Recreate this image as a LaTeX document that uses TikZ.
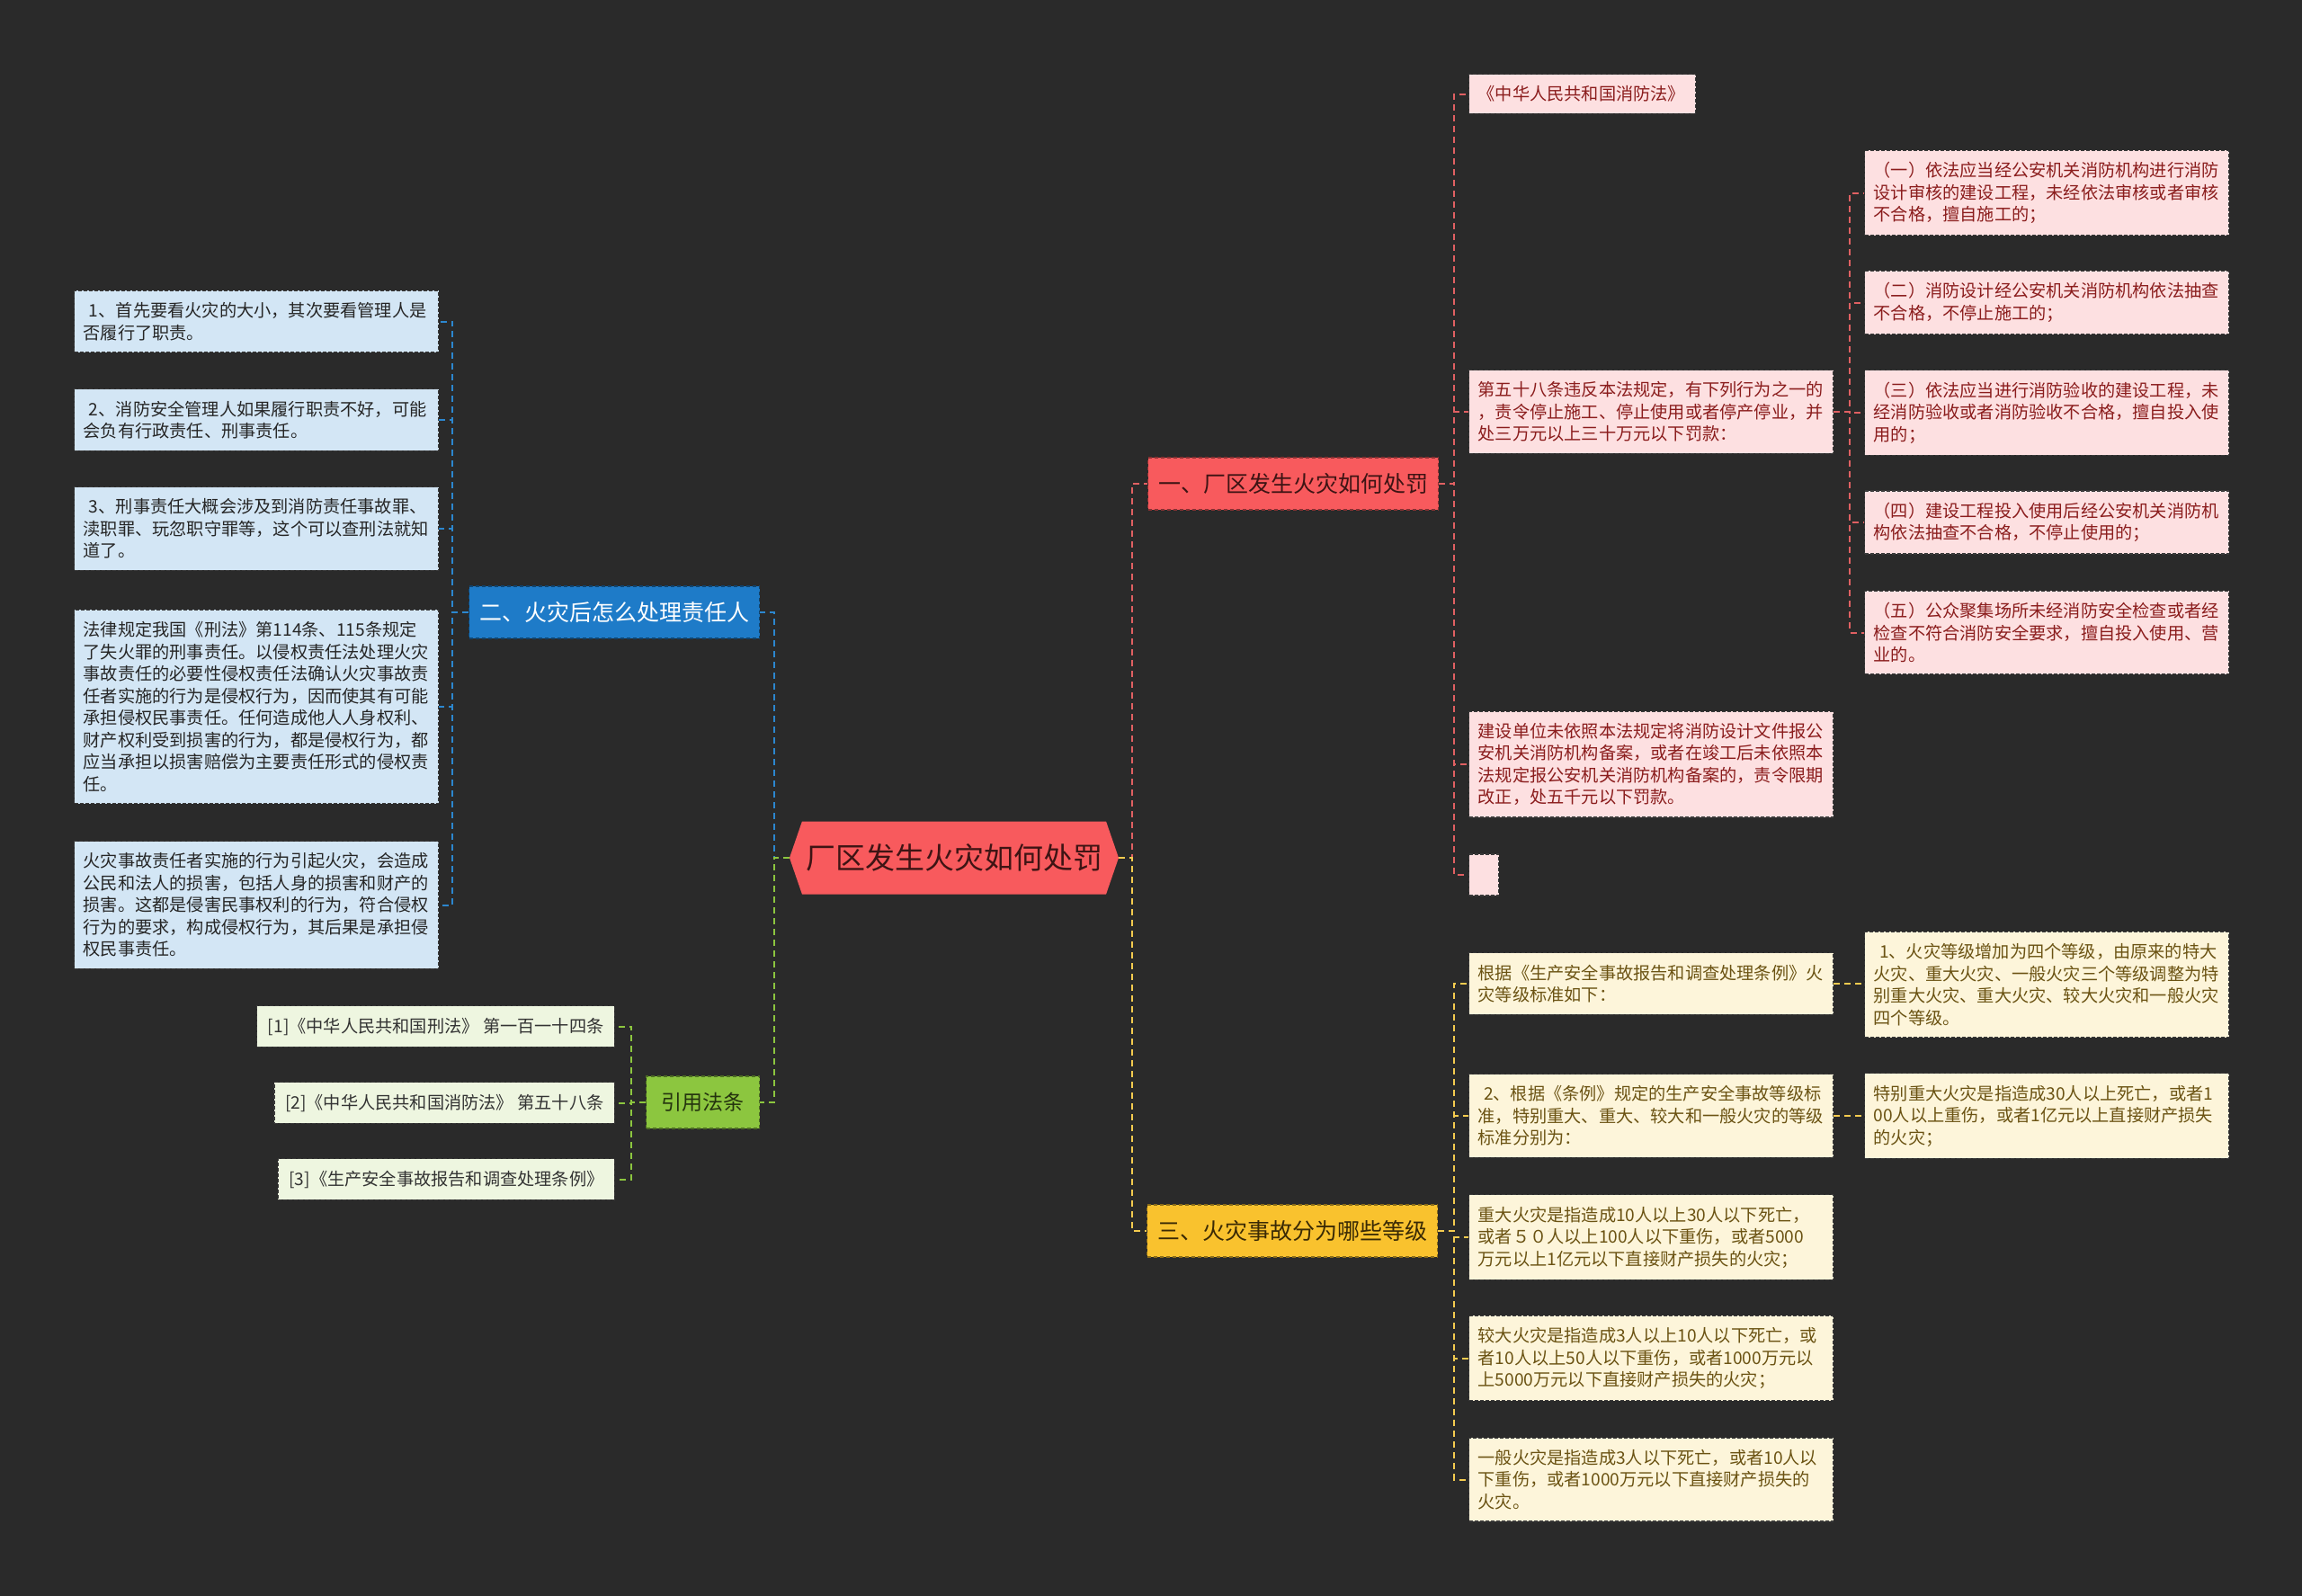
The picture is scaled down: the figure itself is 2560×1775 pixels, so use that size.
\documentclass[tikz,border=0pt]{standalone}
\usepackage{fontspec}
\setmainfont{Noto Sans CJK SC}
\usepackage{xcolor}
\usetikzlibrary{positioning, shapes.symbols}
\definecolor{bgDark}{HTML}{2A2A2A}
\definecolor{hotRed}{HTML}{F85A5D}
\definecolor{rootInk}{HTML}{3E1414}
\definecolor{deepBlue}{HTML}{1E7BC8}
\definecolor{amber}{HTML}{F9C22E}
\definecolor{amberInk}{HTML}{3A2A05}
\definecolor{leafGreen}{HTML}{8CC63F}
\definecolor{greenInk}{HTML}{24330E}
\definecolor{skyFill}{HTML}{D3E6F5}
\definecolor{roseFill}{HTML}{FDE0E1}
\definecolor{roseInk}{HTML}{8B1D1D}
\definecolor{creamFill}{HTML}{FDF5DA}
\definecolor{creamInk}{HTML}{6B5313}
\definecolor{mintFill}{HTML}{EEF6E0}
\definecolor{boxEdge}{HTML}{3A3A3A}
\definecolor{linkBlue}{HTML}{2C87CF}
\definecolor{linkRed}{HTML}{E06062}
\definecolor{linkAmber}{HTML}{F4CB4F}
\definecolor{linkGreen}{HTML}{8CC63F}
\tikzset{
    rootNode/.style={signal, signal to=east and west, signal pointer angle=142, fill=hotRed, text=rootInk,
        font=\fontsize{33}{38}\selectfont, minimum width=366pt, minimum height=81pt, inner sep=0pt},
    topicNode/.style={rectangle, fill=#1, draw=#1!55!black, line width=1.2pt, dash pattern=on 4pt off 3pt,
        minimum width=323pt, minimum height=58pt, inner xsep=6pt, font=\fontsize{25}{30}\selectfont},
    leafNode/.style={rectangle, draw=boxEdge, line width=1.2pt, dash pattern=on 4pt off 2pt,
        text width=385pt, align=left, inner xsep=10pt, inner ysep=13pt, font=\fontsize{19.2}{24.5}\selectfont},
    blueLeaf/.style={leafNode, fill=skyFill, text=black!85},
    redLeaf/.style={leafNode, fill=roseFill, text=roseInk},
    yellowLeaf/.style={leafNode, fill=creamFill, text=creamInk},
    greenLeaf/.style={rectangle, draw=boxEdge, line width=1.2pt, dash pattern=on 4pt off 2pt, fill=mintFill,
        text=black!80, inner xsep=12pt, inner ysep=13pt, font=\fontsize{19.2}{24.5}\selectfont},
    linkLine/.style={draw=#1, line width=2pt, dash pattern=on 7pt off 5pt}
}
\begin{document}
\begin{tikzpicture}[x=1pt, y=-1pt]
    \fill[bgDark] (0,0) rectangle (2560,1775);
    \useasboundingbox (0,0) rectangle (2560,1775);

    \node[rootNode] (root) at (1061,954) {厂区发生火灾如何处罚};

    \node[topicNode=hotRed, text=rootInk, anchor=west] (fire) at (1276,538) {一、厂区发生火灾如何处罚};
    \node[topicNode=deepBlue, text=white, anchor=west] (duty) at (521,681) {二、火灾后怎么处理责任人};
    \node[topicNode=amber, text=amberInk, anchor=west] (grade) at (1275,1369) {三、火灾事故分为哪些等级};
    \node[topicNode=leafGreen, text=greenInk, anchor=west, minimum width=126pt, font=\fontsize{23}{28}\selectfont] (law) at (718,1226) {引用法条};

    \node[blueLeaf, anchor=west] (d1) at (82,357.5) {~1、首先要看火灾的大小，其次要看管理人是\\否履行了职责。};
    \node[blueLeaf, anchor=west] (d2) at (82,467) {~2、消防安全管理人如果履行职责不好，可能\\会负有行政责任、刑事责任。};
    \node[blueLeaf, anchor=west] (d3) at (82,588) {~3、刑事责任大概会涉及到消防责任事故罪、\\渎职罪、玩忽职守罪等，这个可以查刑法就知\\道了。};
    \node[blueLeaf, anchor=west] (d4) at (82,786) {法律规定我国《刑法》第114条、115条规定\\了失火罪的刑事责任。以侵权责任法处理火灾\\事故责任的必要性侵权责任法确认火灾事故责\\任者实施的行为是侵权行为，因而使其有可能\\承担侵权民事责任。任何造成他人人身权利、\\财产权利受到损害的行为，都是侵权行为，都\\应当承担以损害赔偿为主要责任形式的侵权责\\任。};
    \node[blueLeaf, anchor=west] (d5) at (82,1006.5) {火灾事故责任者实施的行为引起火灾，会造成\\公民和法人的损害，包括人身的损害和财产的\\损害。这都是侵害民事权利的行为，符合侵权\\行为的要求，构成侵权行为，其后果是承担侵\\权民事责任。};

    \node[greenLeaf, anchor=east] (g1) at (684,1141.5) {[1]《中华人民共和国刑法》 第一百一十四条};
    \node[greenLeaf, anchor=east] (g2) at (684,1226.5) {[2]《中华人民共和国消防法》 第五十八条};
    \node[greenLeaf, anchor=east] (g3) at (684,1311.5) {[3]《生产安全事故报告和调查处理条例》};

    \node[redLeaf, anchor=west, text width=232pt] (r0) at (1633,104.5) {《中华人民共和国消防法》};
    \node[redLeaf, anchor=west] (r1) at (1633,458) {第五十八条违反本法规定，有下列行为之一的\\，责令停止施工、停止使用或者停产停业，并\\处三万元以上三十万元以下罚款：};
    \node[redLeaf, anchor=west] (r2) at (1633,850) {建设单位未依照本法规定将消防设计文件报公\\安机关消防机构备案，或者在竣工后未依照本\\法规定报公安机关消防机构备案的，责令限期\\改正，处五千元以下罚款。};
    \node[redLeaf, anchor=west, text width=13pt, minimum height=46pt] (r3) at (1633,973) {};

    \node[redLeaf, anchor=west] (c1) at (2073,214.5) {（一）依法应当经公安机关消防机构进行消防\\设计审核的建设工程，未经依法审核或者审核\\不合格，擅自施工的；};
    \node[redLeaf, anchor=west] (c2) at (2073,336.5) {（二）消防设计经公安机关消防机构依法抽查\\不合格，不停止施工的；};
    \node[redLeaf, anchor=west] (c3) at (2073,459) {（三）依法应当进行消防验收的建设工程，未\\经消防验收或者消防验收不合格，擅自投入使\\用的；};
    \node[redLeaf, anchor=west] (c4) at (2073,581) {（四）建设工程投入使用后经公安机关消防机\\构依法抽查不合格，不停止使用的；};
    \node[redLeaf, anchor=west] (c5) at (2073,703.5) {（五）公众聚集场所未经消防安全检查或者经\\检查不符合消防安全要求，擅自投入使用、营\\业的。};

    \node[yellowLeaf, anchor=west] (y1) at (1633,1094) {根据《生产安全事故报告和调查处理条例》火\\灾等级标准如下：};
    \node[yellowLeaf, anchor=west] (y2) at (1633,1241) {~2、根据《条例》规定的生产安全事故等级标\\准，特别重大、重大、较大和一般火灾的等级\\标准分别为：};
    \node[yellowLeaf, anchor=west] (y3) at (1633,1376) {重大火灾是指造成10人以上30人以下死亡，\\或者５０人以上100人以下重伤，或者5000\\万元以上1亿元以下直接财产损失的火灾；};
    \node[yellowLeaf, anchor=west] (y4) at (1633,1510.5) {较大火灾是指造成3人以上10人以下死亡，或\\者10人以上50人以下重伤，或者1000万元以\\上5000万元以下直接财产损失的火灾；};
    \node[yellowLeaf, anchor=west] (y5) at (1633,1645.5) {一般火灾是指造成3人以下死亡，或者10人以\\下重伤，或者1000万元以下直接财产损失的\\火灾。};
    \node[yellowLeaf, anchor=west] (z1) at (2073,1095) {~1、火灾等级增加为四个等级，由原来的特大\\火灾、重大火灾、一般火灾三个等级调整为特\\别重大火灾、重大火灾、较大火灾和一般火灾\\四个等级。};
    \node[yellowLeaf, anchor=west] (z2) at (2073,1241) {特别重大火灾是指造成30人以上死亡，或者1\\00人以上重伤，或者1亿元以上直接财产损失\\的火灾；};

    \coordinate (tLeft) at (861,0);  \coordinate (tRight) at (1259,0);
    \coordinate (tDuty) at (503,0);  \coordinate (tLaw) at (702,0);
    \coordinate (tFire) at (1617,0); \coordinate (tArt) at (2057,0);
    \coordinate (tGrade) at (1617,0);

    \draw[linkLine=linkBlue] (root.west) -- (tLeft |- root.west) |- (duty.east);
    \draw[linkLine=linkGreen] (root.west) -- (tLeft |- root.west) |- (law.east);
    \draw[linkLine=linkRed] (root.east) -- (tRight |- root.east) |- (fire.west);
    \draw[linkLine=linkAmber] (root.east) -- (tRight |- root.east) |- (grade.west);

    \foreach \n in {d1,d2,d3,d4,d5}
        \draw[linkLine=linkBlue] (duty.west) -- (tDuty |- duty.west) |- (\n.east);
    \foreach \n in {g1,g2,g3}
        \draw[linkLine=linkGreen] (law.west) -- (tLaw |- law.west) |- (\n.east);
    \foreach \n in {r0,r1,r2,r3}
        \draw[linkLine=linkRed] (fire.east) -- (tFire |- fire.east) |- (\n.west);
    \foreach \n in {c1,c2,c3,c4,c5}
        \draw[linkLine=linkRed] (r1.east) -- (tArt |- r1.east) |- (\n.west);
    \foreach \n in {y1,y2,y3,y4,y5}
        \draw[linkLine=linkAmber] (grade.east) -- (tGrade |- grade.east) |- (\n.west);
    \draw[linkLine=linkAmber] (y1.east) -- (y1.east -| z1.west);
    \draw[linkLine=linkAmber] (y2.east) -- (y2.east -| z2.west);
\end{tikzpicture}
\end{document}
